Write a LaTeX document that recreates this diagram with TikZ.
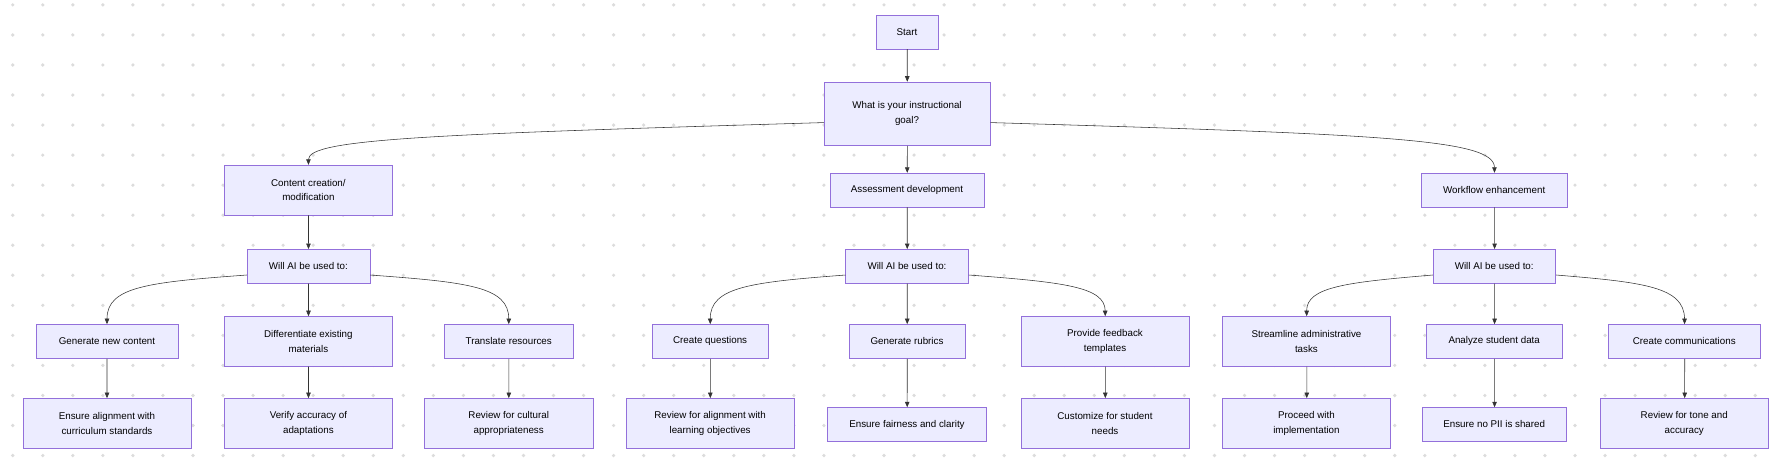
\documentclass[tikz,border=0pt]{standalone}
\usepackage{fontspec}
\setmainfont{Liberation Sans}
\usetikzlibrary{arrows.meta}
\usetikzlibrary{positioning}
\definecolor{boxfill}{HTML}{ECECFF}
\definecolor{boxline}{HTML}{9370DB}
\definecolor{griddot}{HTML}{DCDCDC}
\definecolor{wire}{HTML}{333333}

\begin{document}
\begin{tikzpicture}[x=1pt,y=-1pt,scale=1.138,every node/.append style={transform shape},
  box/.style={draw=boxline, fill=boxfill, font=\fontsize{8.6}{13}\selectfont, align=center,
    minimum height=30pt, inner sep=2pt},
  wide/.style={box, minimum width=148pt, minimum height=44pt},
  arr/.style={draw=wire, line width=0.55pt, -{Triangle[length=5.5pt,width=4.5pt]}}]
\useasboundingbox (0,0) rectangle (1559.75,407.7);
% dotted background
\foreach \i in {0,...,58}
  \foreach \j in {0,...,15}
    \fill[griddot] (11.2+26.4*\i,4.3+26.4*\j) circle (1.6);

% top
\node[box, minimum width=54pt] (start) at (797,28) {Start};
\node[box, minimum width=146pt, minimum height=56pt] (goal) at (797,100) {What is your instructional\\goal?};

% branches
\node[wide] (content) at (271,167) {Content creation/\\modification};
\node[box, minimum width=135pt] (assess) at (797,167) {Assessment development};
\node[box, minimum width=128pt] (workflow) at (1313,167) {Workflow enhancement};

\node[box, minimum width=108pt] (willA) at (271,234) {Will AI be used to:};
\node[box, minimum width=108pt] (willB) at (797,234) {Will AI be used to:};
\node[box, minimum width=108pt] (willC) at (1313,234) {Will AI be used to:};

% uses
\node[box, minimum width=125pt] (gencontent) at (94,300) {Generate new content};
\node[wide] (differ) at (271,300) {Differentiate existing\\materials};
\node[box, minimum width=114pt] (translate) at (447,300) {Translate resources};
\node[box, minimum width=102pt] (questions) at (624,300) {Create questions};
\node[box, minimum width=102pt] (rubrics) at (797,300) {Generate rubrics};
\node[wide] (feedback) at (971,300) {Provide feedback\\templates};
\node[wide] (admin) at (1148,300) {Streamline administrative\\tasks};
\node[box, minimum width=119pt] (analyze) at (1313,300) {Analyze student data};
\node[box, minimum width=134pt] (comms) at (1480,300) {Create communications};

% checks
\node[wide] (align) at (94,372) {Ensure alignment with\\curriculum standards};
\node[wide] (verify) at (271,372) {Verify accuracy of\\adaptations};
\node[wide] (culture) at (447,372) {Review for cultural\\appropriateness};
\node[wide] (objectives) at (624,372) {Review for alignment with\\learning objectives};
\node[box, minimum width=140pt] (fair) at (797,373) {Ensure fairness and clarity};
\node[wide] (customize) at (971,372) {Customize for student\\needs};
\node[wide] (proceed) at (1148,372) {Proceed with\\implementation};
\node[box, minimum width=126pt] (pii) at (1313,373) {Ensure no PII is shared};
\node[wide] (tone) at (1480,372) {Review for tone and\\accuracy};

% connectors
\draw[arr] (start) -- (goal);
\draw[arr] (goal.186) .. controls (380,118) and (271,122) .. (content.north);
\draw[arr] (goal) -- (assess);
\draw[arr] (goal.354) .. controls (1214,118) and (1313,122) .. (workflow.north);
\draw[arr] (content) -- (willA);
\draw[arr] (assess) -- (willB);
\draw[arr] (workflow) -- (willC);

\draw[arr] (willA.188) .. controls (130,248) and (94,252) .. (gencontent.north);
\draw[arr] (willA) -- (differ);
\draw[arr] (willA.352) .. controls (412,248) and (447,252) .. (translate.north);
\draw[arr] (willB.188) .. controls (660,248) and (624,252) .. (questions.north);
\draw[arr] (willB) -- (rubrics);
\draw[arr] (willB.352) .. controls (935,248) and (971,252) .. (feedback.north);
\draw[arr] (willC.188) .. controls (1184,248) and (1148,252) .. (admin.north);
\draw[arr] (willC) -- (analyze);
\draw[arr] (willC.352) .. controls (1444,248) and (1480,252) .. (comms.north);

\draw[arr] (gencontent) -- (align);
\draw[arr] (differ) -- (verify);
\draw[arr] (translate) -- (culture);
\draw[arr] (questions) -- (objectives);
\draw[arr] (rubrics) -- (fair);
\draw[arr] (feedback) -- (customize);
\draw[arr] (admin) -- (proceed);
\draw[arr] (analyze) -- (pii);
\draw[arr] (comms) -- (tone);
\end{tikzpicture}
\end{document}
